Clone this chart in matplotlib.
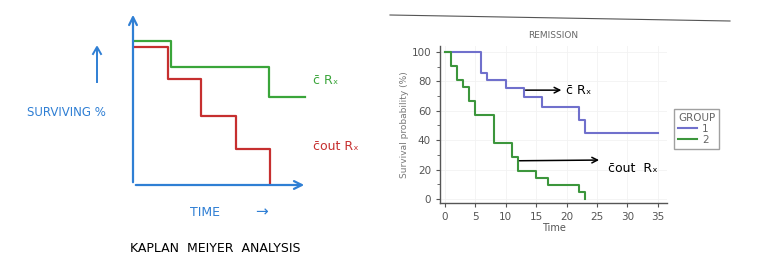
import matplotlib
matplotlib.use("Agg")
import matplotlib.pyplot as plt
from matplotlib.lines import Line2D

# ---------- DATA ----------
# hand sketch (arbitrary units, 0-100)
sketch_t_with = [0, 22, 78, 99]
sketch_s_with = [83, 68, 51, 51]
sketch_t_without = [0, 20, 39, 59, 79, 79]
sketch_s_without = [80, 61, 40, 21, 0, 0]

# remission KM curves
km_t1 = [0, 6, 7, 10, 13, 16, 22, 23, 35]
km_s1 = [100, 85.7, 80.7, 75.3, 69.0, 62.7, 53.8, 44.8, 44.8]
km_t2 = [0, 1, 2, 3, 4, 5, 8, 11, 12, 15, 17, 22, 23]
km_s2 = [100, 90.5, 81.0, 76.2, 66.7, 57.1, 38.1, 28.6, 19.0, 14.3, 9.5, 4.8, 0]
group_labels = ["1", "2"]

W, H = 765, 268
fig = plt.figure(figsize=(W / 100, H / 100), dpi=100)

def fx(x):
    return x / W

def fy(y):
    return 1 - y / H

blue = "#2f7fd4"
green = "#3aa53a"
red = "#c62f2f"

# ---------- LEFT: SKETCH ----------
ax0 = fig.add_axes([fx(133), fy(185), fx(307 - 133), (185 - 12) / H])
ax0.set_xlim(0, 100)
ax0.set_ylim(0, 100)
ax0.axis("off")
ax0.step(sketch_t_with, sketch_s_with, where="post", color=green, lw=1.6)
ax0.step(sketch_t_without, sketch_s_without, where="post", color=red, lw=1.6)
ax0.annotate("", xy=(0, 1), xytext=(0, 0), xycoords="axes fraction",
             arrowprops=dict(arrowstyle="->", color=blue, lw=1.6, mutation_scale=14))
ax0.annotate("", xy=(1, 0), xytext=(0, 0), xycoords="axes fraction",
             arrowprops=dict(arrowstyle="->", color=blue, lw=1.6, mutation_scale=14))

fig.text(fx(66), fy(113), "SURVIVING %", color=blue, fontsize=8.5, ha="center", va="center")
fig.add_artist(Line2D([fx(97), fx(97)], [fy(82), fy(48)], color=blue, lw=1.4))
fig.add_artist(Line2D([fx(93), fx(97), fx(101)], [fy(54), fy(47), fy(54)], color=blue, lw=1.4))
fig.text(fx(205), fy(213), "TIME", color=blue, fontsize=9, ha="center", va="center")
fig.text(fx(262), fy(212), "\u2192", color=blue, fontsize=11, ha="center", va="center")
fig.text(fx(215), fy(249), "KAPLAN  MEIYER  ANALYSIS", color="black", fontsize=9,
         ha="center", va="center")
fig.text(fx(313), fy(80), "c\u0304 R\u2093", color=green, fontsize=9, ha="left", va="center")
fig.text(fx(313), fy(146), "c\u0304out R\u2093", color=red, fontsize=9, ha="left", va="center")

# ---------- RIGHT: KM PLOT ----------
ax = fig.add_axes([fx(440), fy(203), fx(667 - 440), (203 - 46) / H])
ax.step(km_t1, km_s1, where="post", color="#7070cc", lw=1.5, label=group_labels[0])
ax.step(km_t2, km_s2, where="post", color="#3c963c", lw=1.5, label=group_labels[1])
ax.set_xlim(-0.8, 36.5)
ax.set_ylim(-2.7, 104)
ax.set_xticks(range(0, 36, 5))
ax.set_yticks(range(0, 101, 20))
ax.set_yticks(range(10, 100, 20), minor=True)
ax.grid(True, color="#f2f2f2", lw=0.6)
for s in ["top", "right"]:
    ax.spines[s].set_visible(False)
for s in ["left", "bottom"]:
    ax.spines[s].set_color("#555555")
    ax.spines[s].set_linewidth(1.0)
ax.tick_params(colors="#555555", labelsize=7.5, length=3, direction="out")
ax.tick_params(which="minor", length=2, colors="#555555")
ax.set_xlabel("Time", fontsize=7, color="#555555", labelpad=1)
ax.set_ylabel("Survival probability (%)", fontsize=6.5, color="#777777", labelpad=2)
ax.set_title("REMISSION", fontsize=6.5, color="#666666", pad=6)

leg = ax.legend(title="GROUP", loc="upper left", bbox_to_anchor=(1.01, 0.63),
                fontsize=7.5, title_fontsize=7.5, frameon=True, fancybox=False,
                handlelength=1.8, borderpad=0.35, labelspacing=0.1, handletextpad=0.5)
leg.get_frame().set_edgecolor("#888888")
leg.get_title().set_color("#666666")
for t in leg.get_texts():
    t.set_color("#666666")
leg._legend_box.align = "left"

# hand-drawn annotations
ax.annotate("", xy=(19.6, 74), xytext=(12.8, 74),
            arrowprops=dict(arrowstyle="->", color="black", lw=1.1))
ax.annotate("", xy=(25.8, 26.5), xytext=(11.8, 26),
            arrowprops=dict(arrowstyle="->", color="black", lw=1.1))
fig.text(fx(566), fy(90), "c\u0304 R\u2093", color="black", fontsize=9, ha="left", va="center")
fig.text(fx(608), fy(168), "c\u0304out  R\u2093", color="black", fontsize=9, ha="left", va="center")

# scan edge line on top
fig.add_artist(Line2D([fx(390), fx(730)], [fy(15), fy(21)], color="#555555", lw=0.8))

fig.savefig("out.png", dpi=100, facecolor="white")
